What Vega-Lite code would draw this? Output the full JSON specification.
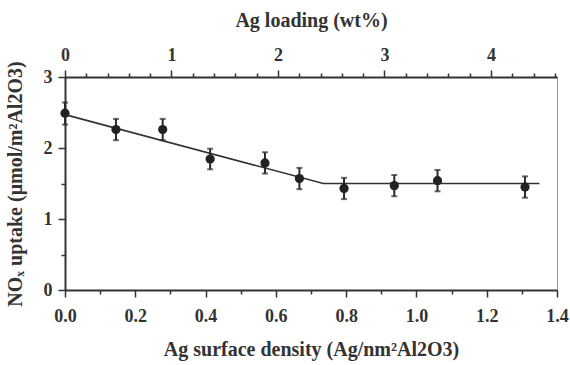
{
  "$schema": "https://vega.github.io/schema/vega-lite/v6.json",
  "width": 492,
  "height": 213,
  "autosize": "none",
  "padding": {"left": 65, "top": 77, "right": 13, "bottom": 75},
  "config": {
    "view": {"stroke": "#9a9a9a", "strokeWidth": 1},
    "font": "Times New Roman, Liberation Serif, serif",
    "axis": {
      "labelFont": "Times New Roman, Liberation Serif, serif", "labelFontWeight": "bold", "labelFontSize": 18, "labelColor": "#333", "labelFlush": false,
      "titleFont": "Times New Roman, Liberation Serif, serif", "titleFontWeight": "bold", "titleFontSize": 20, "titleColor": "#333",
      "domainColor": "#333", "domainWidth": 2, "tickColor": "#333", "tickWidth": 1.5, "grid": false
    }
  },
  "datasets": {
    "pts": [
      {"density": 0.0, "nox": 2.49, "lo": 2.33, "hi": 2.64, "wt": 0.0},
      {"density": 0.145, "nox": 2.26, "lo": 2.11, "hi": 2.41, "wt": 0.48},
      {"density": 0.278, "nox": 2.26, "lo": 2.11, "hi": 2.41, "wt": 0.92},
      {"density": 0.413, "nox": 1.845, "lo": 1.70, "hi": 1.99, "wt": 1.36},
      {"density": 0.569, "nox": 1.79, "lo": 1.64, "hi": 1.94, "wt": 1.88},
      {"density": 0.667, "nox": 1.57, "lo": 1.42, "hi": 1.72, "wt": 2.20},
      {"density": 0.794, "nox": 1.43, "lo": 1.28, "hi": 1.58, "wt": 2.62},
      {"density": 0.937, "nox": 1.47, "lo": 1.32, "hi": 1.62, "wt": 3.09},
      {"density": 1.06, "nox": 1.54, "lo": 1.39, "hi": 1.69, "wt": 3.50},
      {"density": 1.309, "nox": 1.45, "lo": 1.30, "hi": 1.60, "wt": 4.32}
    ],
    "fit": [
      {"density": 0.0, "nox": 2.47},
      {"density": 0.735, "nox": 1.50},
      {"density": 1.35, "nox": 1.50}
    ]
  },
  "resolve": {"scale": {"x": "independent", "y": "independent"}, "axis": {"x": "independent", "y": "independent"}},
  "layer": [
    {
      "data": {"name": "fit"},
      "mark": {"type": "line", "color": "#333", "strokeWidth": 1.6},
      "encoding": {
        "x": {"field": "density", "type": "quantitative", "scale": {"domain": [0, 1.4], "nice": false},
          "axis": {"orient": "bottom", "values": [0, 0.2, 0.4, 0.6, 0.8, 1.0, 1.2, 1.4], "format": ".1f", "tickSize": 7, "labelPadding": 10,
            "title": "Ag surface density (Ag/nm²Al2O3)", "titlePadding": 14}},
        "y": {"field": "nox", "type": "quantitative", "scale": {"domain": [0, 3], "nice": false},
          "axis": {"orient": "left", "values": [0, 1, 2, 3], "tickSize": 7, "labelPadding": 6,
            "title": "NOₓ uptake  (μmol/m²Al2O3)", "titlePadding": 18}}
      }
    },
    {
      "data": {"name": "pts"},
      "mark": {"type": "rule", "color": "#2a2a2a", "strokeWidth": 2},
      "encoding": {
        "x": {"field": "density", "type": "quantitative", "scale": {"domain": [0, 1.4], "nice": false}, "axis": null},
        "y": {"field": "lo", "type": "quantitative", "scale": {"domain": [0, 3], "nice": false}, "axis": null},
        "y2": {"field": "hi"}
      }
    },
    {
      "data": {"name": "pts"},
      "mark": {"type": "tick", "orient": "horizontal", "color": "#2a2a2a", "size": 6, "thickness": 2},
      "encoding": {
        "x": {"field": "density", "type": "quantitative", "scale": {"domain": [0, 1.4], "nice": false}, "axis": null},
        "y": {"field": "lo", "type": "quantitative", "scale": {"domain": [0, 3], "nice": false}, "axis": null}
      }
    },
    {
      "data": {"name": "pts"},
      "mark": {"type": "tick", "orient": "horizontal", "color": "#2a2a2a", "size": 6, "thickness": 2},
      "encoding": {
        "x": {"field": "density", "type": "quantitative", "scale": {"domain": [0, 1.4], "nice": false}, "axis": null},
        "y": {"field": "hi", "type": "quantitative", "scale": {"domain": [0, 3], "nice": false}, "axis": null}
      }
    },
    {
      "data": {"name": "pts"},
      "mark": {"type": "circle", "color": "#222", "opacity": 1, "size": 85},
      "encoding": {
        "x": {"field": "density", "type": "quantitative", "scale": {"domain": [0, 1.4], "nice": false}, "axis": null},
        "y": {"field": "nox", "type": "quantitative", "scale": {"domain": [0, 3], "nice": false}, "axis": null}
      }
    },
    {
      "data": {"name": "pts"},
      "mark": {"type": "circle", "opacity": 0},
      "encoding": {
        "x": {"field": "density", "type": "quantitative", "scale": {"domain": [0, 1.4], "nice": false},
          "axis": {"orient": "bottom", "values": [0.1, 0.3, 0.5, 0.7, 0.9, 1.1, 1.3], "labels": false, "domain": false, "tickSize": 4, "title": null}},
        "y": {"field": "nox", "type": "quantitative", "scale": {"domain": [0, 3], "nice": false},
          "axis": {"orient": "left", "values": [0.5, 1.5, 2.5], "labels": false, "domain": false, "tickSize": 4, "title": null}}
      }
    },
    {
      "data": {"name": "pts"},
      "mark": {"type": "circle", "opacity": 0},
      "encoding": {
        "x": {"field": "wt", "type": "quantitative", "scale": {"domain": [0, 4.62], "nice": false},
          "axis": {"orient": "top", "values": [0, 1, 2, 3, 4], "tickSize": 7, "labelPadding": 6,
            "title": "Ag loading (wt%)", "titlePadding": 16}},
        "y": {"field": "nox", "type": "quantitative", "scale": {"domain": [0, 3], "nice": false}, "axis": null}
      }
    },
    {
      "data": {"name": "pts"},
      "mark": {"type": "circle", "opacity": 0},
      "encoding": {
        "x": {"field": "wt", "type": "quantitative", "scale": {"domain": [0, 4.62], "nice": false},
          "axis": {"orient": "top", "values": [0.2, 0.4, 0.6, 0.8, 1.2, 1.4, 1.6, 1.8, 2.2, 2.4, 2.6, 2.8, 3.2, 3.4, 3.6, 3.8, 4.2, 4.4, 4.6], "labels": false, "domain": false, "tickSize": 4, "title": null}},
        "y": {"field": "nox", "type": "quantitative", "scale": {"domain": [0, 3], "nice": false}, "axis": null}
      }
    }
  ]
}
